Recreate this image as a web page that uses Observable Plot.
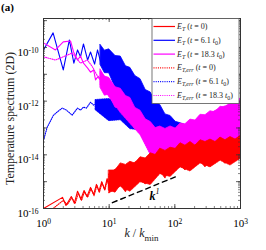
<!DOCTYPE html>
<html><head><meta charset="utf-8">
<script src="https://cdn.jsdelivr.net/npm/d3@7"></script>
<script src="https://cdn.jsdelivr.net/npm/@observablehq/plot@0.6"></script>
<style>body{margin:0;background:#fff} svg{display:block}</style>
</head><body><div id="chart"></div>
<script>
// ---------- DATA ----------
// E_T (t = 0), solid red: low-k line, then noisy band (lower / upper envelope)
const redK  = [1, 1.95, 2.2, 2.65, 2.95, 3.3, 3.7, 4.15, 4.6, 5.2, 5.8, 6.4, 7.0, 7.7, 8.5, 9.3, 10];
const redE  = [1.0e-16, 2.6e-16, 1.3e-16, 2.8e-16, 1.55e-16, 4.4e-16, 2.2e-16, 4.7e-16, 2.8e-16, 6.1e-16, 3.3e-16, 7.9e-16, 4.4e-16, 1.0e-15, 5.1e-16, 1.3e-15, 6.6e-16];
const redBandK  = [10, 12.5, 15, 18, 21, 25, 30, 36, 43, 51, 60, 72, 86, 103, 122, 145, 173, 206, 246, 293, 349, 416, 496, 590, 704, 840, 1000];
const redBandLo = [4.7e-16, 3.9e-16, 7.3e-16, 4.0e-16, 7.9e-16, 7.4e-16, 1.2e-15, 7.8e-16, 1.47e-15, 1.39e-15, 2.4e-15, 1.3e-15, 3.1e-15, 3.1e-15, 4.3e-15, 2.6e-15, 5.3e-15, 3.6e-15, 5.7e-15, 3.4e-15, 7.5e-15, 5.7e-15, 7.4e-15, 4.6e-15, 8.5e-15, 6.3e-15, 9.7e-15];
const redBandHi = [2.6e-15, 2.6e-15, 4.8e-15, 4.2e-15, 5.5e-15, 4.7e-15, 8.1e-15, 7.3e-15, 1.14e-14, 9.9e-15, 1.7e-14, 1.4e-14, 1.84e-14, 1.67e-14, 2.7e-14, 2.2e-14, 3.0e-14, 2.2e-14, 3.5e-14, 3.0e-14, 3.7e-14, 3.0e-14, 4.4e-14, 3.5e-14, 4.6e-14, 3.7e-14, 5.0e-14];

// E_T (t = 6.1 t0), solid blue
const blueK = [1, 1.4, 2.0, 2.48, 2.9, 3.3, 3.66, 4.06, 4.7, 5.2, 6.0, 6.65, 7.4];
const blueE = [8.1e-11, 3.5e-10, 1.45e-11, 1.9e-10, 2.6e-11, 8.1e-11, 4.5e-11, 1.35e-10, 3.4e-11, 6.8e-11, 2.4e-11, 8.1e-11, 2.9e-11];
const blueBandK  = [7.4, 8.6, 10, 12.5, 15, 18, 21, 25, 30, 36, 43, 51, 60, 72, 86, 103, 122, 173, 246, 496, 1000];
const blueBandLo = [2.2e-11, 1.1e-11, 1.1e-11, 3.1e-12, 2.6e-12, 1.2e-12, 8.6e-13, 2.6e-13, 2.6e-13, 1.3e-13, 1.08e-13, 3.6e-14, 4.5e-14, 3.1e-14, 3.7e-14, 2.3e-14, 3.2e-14, 3.2e-14, 3.5e-14, 4.2e-14, 4.5e-14];
const blueBandHi = [1.24e-10, 7.6e-11, 8.5e-11, 4.8e-11, 4.6e-11, 2.0e-11, 1.74e-11, 8.6e-12, 6.6e-12, 2.6e-12, 2.1e-12, 9.0e-13, 7.2e-13, 3.2e-13, 2.8e-13, 1.7e-13, 1.5e-13, 1.07e-13, 1.26e-13, 1.95e-13, 3.0e-13];

// E_T (t = 18.3 t0), solid magenta
const magK = [1, 1.52, 2.0, 2.58, 2.87, 3.3, 3.66, 4.06, 4.7, 5.2, 5.8, 6.2, 6.7, 7.4];
const magE = [1.48e-10, 8.1e-11, 1.62e-10, 1.74e-10, 6.8e-11, 3.4e-11, 4.8e-11, 2.6e-11, 1.7e-11, 1.2e-11, 1.45e-11, 6.2e-12, 8.0e-12, 6.0e-12];
const magBandK  = [7.4, 8.6, 10, 12.5, 15, 18, 21, 25, 30, 36, 43, 51, 60, 72, 86, 103, 122, 145, 173, 206, 246, 293, 349, 416, 496, 590, 704, 840, 1000];
const magBandLo = [3.1e-12, 1.6e-12, 1.74e-12, 5.7e-13, 5.5e-13, 2.9e-13, 2.5e-13, 9.1e-14, 8.3e-14, 3.7e-14, 3.2e-14, 1.3e-14, 1.74e-14, 1.5e-14, 2.2e-14, 1.56e-14, 3.0e-14, 2.1e-14, 2.9e-14, 1.8e-14, 3.4e-14, 2.7e-14, 3.5e-14, 2.4e-14, 4.2e-14, 2.85e-14, 3.8e-14, 2.8e-14, 4.2e-14];
const magBandHi = [1.5e-11, 8.2e-12, 7.4e-12, 3.3e-12, 2.9e-12, 1.55e-12, 1.32e-12, 5.6e-13, 4.4e-13, 2.1e-13, 1.66e-13, 9.9e-14, 1.13e-13, 9.2e-14, 1.14e-13, 9.5e-14, 1.46e-13, 1.38e-13, 2.05e-13, 1.9e-13, 3.1e-13, 3.0e-13, 4.2e-13, 3.8e-13, 6.2e-13, 5.7e-13, 8.5e-13, 8.1e-13, 1.27e-12];

// E_T,err (t = 0), dotted red
const redErrK = [1.4, 2.0, 2.3, 2.7, 3.05, 3.4, 3.8, 4.2, 4.7, 5.3, 5.9, 6.5, 7.1, 7.8, 8.6, 9.4, 10];
const redErrE = [1.0e-16, 2.0e-16, 1.4e-16, 2.5e-16, 1.6e-16, 3.8e-16, 2.0e-16, 4.2e-16, 2.6e-16, 5.5e-16, 3.0e-16, 7.2e-16, 4.0e-16, 9.0e-16, 4.8e-16, 1.2e-15, 6.0e-16];
const redErrBandK  = [10, 15, 21, 30, 43, 60, 86, 122, 173, 246, 349, 496, 704, 1000];
const redErrBandLo = [3.6e-16, 6.5e-16, 4.2e-16, 9.5e-16, 7.5e-16, 1.9e-15, 1.5e-15, 3.4e-15, 2.4e-15, 4.8e-15, 3.4e-15, 6.0e-15, 4.0e-15, 7.0e-15];
const redErrBandHi = [1.86e-15, 3.9e-15, 3.8e-15, 7.0e-15, 7.0e-15, 1.3e-14, 1.15e-14, 2.1e-14, 1.8e-14, 2.8e-14, 2.3e-14, 3.5e-14, 2.9e-14, 4.2e-14];

// E_T,err (t = 6.1 t0), dotted blue
const blueErrK = [1, 1.14, 1.42, 1.69, 1.93, 2.24, 2.73, 3.3, 3.66, 4.06, 4.5, 5.2, 5.8, 6.2];
const blueErrE = [3.5e-14, 1.07e-13, 3.0e-13, 4.3e-13, 5.5e-13, 4.6e-13, 3.0e-13, 5.5e-13, 4.6e-13, 6.0e-13, 5.5e-13, 9.1e-13, 7.1e-13, 8.0e-13];
const blueErrBandK  = [6.2, 10, 15, 21, 30, 43, 60, 86, 122, 246, 496, 1000];
const blueErrBandLo = [4.6e-13, 1.8e-13, 1.95e-13, 9.0e-14, 8.3e-14, 3.5e-14, 3.8e-14, 2.1e-14, 2.9e-14, 1.9e-14, 3.2e-14, 2.3e-14];
const blueErrBandHi = [1.1e-12, 1.2e-12, 9.0e-13, 8.6e-13, 4.1e-13, 3.3e-13, 1.75e-13, 1.4e-13, 9.6e-14, 1.18e-13, 1.24e-13, 1.76e-13];

// E_T,err (t = 18.3 t0), dotted magenta
const magErrK = [1, 1.52, 2.3, 2.73, 3.66, 4.63, 5.5, 6.5, 7.4];
const magErrE = [4.5e-11, 3.4e-11, 5.2e-11, 6.2e-11, 2.6e-11, 3.4e-11, 2.0e-11, 9.3e-12, 7.0e-12];
const magErrBandK  = [7.4, 15, 30, 43, 60, 86, 122, 246, 496, 1000];
const magErrBandLo = [4.0e-12, 3.6e-13, 5.4e-14, 9.6e-15, 7.4e-15, 6.2e-15, 1.48e-14, 1.5e-14, 2.9e-14, 2.3e-14];
const magErrBandHi = [1.2e-11, 2.0e-12, 3.3e-13, 8.8e-14, 5.4e-14, 5.7e-14, 1.08e-13, 2.1e-13, 5.5e-13, 1.0e-12];

// k^1 reference line
const refK = [11.2, 113];
const refE = [1.65e-16, 1.67e-15];

// Ticks / labels
const xTicks = [1, 10, 100, 1000];
const yTicks = [1e-16, 1e-14, 1e-12, 1e-10];
const yMajor = [1e-16, 1e-15, 1e-14, 1e-13, 1e-12, 1e-11, 1e-10, 1e-9];

const legendSub  = ["T", "T", "T", "T,err", "T,err", "T,err"];
const legendTime = ["0", "6.1", "18.3", "0", "6.1", "18.3"];
const legendColor = ["#ff0000", "#0000ff", "#ff00ff", "#ff0000", "#0000ff", "#ff00ff"];
const legendDotted = [false, false, false, true, true, true];

// ---------- BUILD ----------
const line = (ks, es) => ks.map((k, i) => ({k, E: es[i]}));
const band = (ks, lo, hi) => ks.map((k, i) => ({k, lo: lo[i], hi: hi[i]}));

const W = 266, H = 250, mL = 43, mR = 26, mT = 18, mB = 42;
const fh = H - mT - mB;
const fw = W - mL - mR;
const xMinor = d3.scaleLog().domain([1, 1000]).ticks();
const yMinor = d3.scaleLog().domain([1e-16, 1.2e-9]).ticks().filter(v => v <= 1.2e-9);

const RED = "#ff0000", BLUE = "#0000ff", MAG = "#ff00ff";
const DOT = "1,1.2";

function bandMarks(b, color, dotted) {
  return Plot.areaY(b, {x: "k", y1: "lo", y2: "hi", fill: color, stroke: color, strokeWidth: 0.8, strokeDasharray: dotted ? DOT : null});
}
function lineMarks(l, color, dotted) {
  return Plot.line(l, {x: "k", y: "E", stroke: color, strokeWidth: 1.1, strokeDasharray: dotted ? DOT : null});
}

const plot = Plot.plot({
  width: W, height: H,
  marginLeft: mL, marginRight: mR, marginTop: mT, marginBottom: mB,
  style: {fontFamily: "'Liberation Serif', serif", fontSize: "11px", background: "white", color: "black"},
  x: {type: "log", domain: [1, 1000]},
  y: {type: "log", domain: [1e-16, 1.2e-9]},
  marks: [
    bandMarks(band(blueBandK, blueBandLo, blueBandHi), BLUE, false),
    lineMarks(line(blueK, blueE), BLUE, false),
    bandMarks(band(blueErrBandK, blueErrBandLo, blueErrBandHi), BLUE, true),
    lineMarks(line(blueErrK, blueErrE), BLUE, true),
    bandMarks(band(magBandK, magBandLo, magBandHi), MAG, false),
    lineMarks(line(magK, magE), MAG, false),
    bandMarks(band(magErrBandK, magErrBandLo, magErrBandHi), MAG, true),
    lineMarks(line(magErrK, magErrE), MAG, true),
    bandMarks(band(redBandK, redBandLo, redBandHi), RED, false),
    lineMarks(line(redK, redE), RED, false),
    bandMarks(band(redErrBandK, redErrBandLo, redErrBandHi), RED, true),
    lineMarks(line(redErrK, redErrE), RED, true),
    Plot.line(line(refK, refE), {x: "k", y: "E", stroke: "black", strokeWidth: 1.4, strokeDasharray: "5,4"}),
    // inward ticks on all four sides
    Plot.ruleX(xMinor, {x: d => d, insetTop: fh - 2, stroke: "#333", strokeWidth: 0.6}),
    Plot.ruleX(xMinor, {x: d => d, insetBottom: fh - 2, stroke: "#333", strokeWidth: 0.6}),
    Plot.ruleX(xTicks, {x: d => d, insetTop: fh - 4, stroke: "#333", strokeWidth: 0.8}),
    Plot.ruleX(xTicks, {x: d => d, insetBottom: fh - 4, stroke: "#333", strokeWidth: 0.8}),
    Plot.ruleY(yMinor, {y: d => d, insetRight: fw - 2, stroke: "#333", strokeWidth: 0.6}),
    Plot.ruleY(yMinor, {y: d => d, insetLeft: fw - 2, stroke: "#333", strokeWidth: 0.6}),
    Plot.ruleY(yMajor, {y: d => d, insetRight: fw - 4, stroke: "#333", strokeWidth: 0.8}),
    Plot.ruleY(yMajor, {y: d => d, insetLeft: fw - 4, stroke: "#333", strokeWidth: 0.8}),
    Plot.frame({stroke: "#333", strokeWidth: 1}),
    Plot.axisX({ticks: xTicks, tickSize: 0, tickPadding: 11, label: null, tickFormat: d => "10^" + Math.round(Math.log10(d))}),
    Plot.axisY({ticks: yTicks, tickSize: 0, tickPadding: 5, label: null, tickFormat: d => "10^" + Math.round(Math.log10(d))})
  ]
});

document.getElementById("chart").appendChild(plot);
const svg = d3.select(plot);

// superscript tick labels
svg.selectAll('g[aria-label="x-axis tick label"] text, g[aria-label="y-axis tick label"] text').each(function() {
  const t = d3.select(this);
  const parts = t.text().split("^");
  t.text(null);
  t.append("tspan").text(parts[0]);
  t.append("tspan").attr("dy", "-0.45em").attr("font-size", "7.5px").text(parts[1]);
});
svg.selectAll('g[aria-label="y-axis tick label"] text').attr("dy", "0.45em");

const sx = plot.scale("x"), sy = plot.scale("y");

// y label
svg.append("text")
  .attr("transform", `translate(14,118.5) rotate(-90)`)
  .attr("text-anchor", "middle").attr("font-size", "12px").attr("fill", "#222")
  .text("Temperature spectrum (2D)");

// x label
const xl = svg.append("text").attr("x", mL + fw / 2).attr("y", 237).attr("text-anchor", "middle").attr("font-size", "12px").attr("fill", "#222");
xl.append("tspan").attr("font-style", "italic").text("k");
xl.append("tspan").text(" / ");
xl.append("tspan").attr("font-style", "italic").text("k");
xl.append("tspan").attr("font-size", "9px").attr("dy", "4").text("min");

// panel label
svg.append("text").attr("x", 1).attr("y", 11).attr("text-anchor", "start").attr("font-weight", "bold").attr("font-size", "11px").text("(a)");

// k^1 label
const kl = svg.append("text").attr("x", sx.apply(42)).attr("y", sy.apply(2.0e-16)).attr("text-anchor", "start")
  .attr("font-weight", "bold").attr("font-style", "italic").attr("font-size", "12px");
kl.append("tspan").text("k");
kl.append("tspan").attr("font-size", "8px").attr("dy", "-6").attr("font-weight", "normal").text("1");

// legend
const lg = svg.append("g").attr("text-anchor", "start");
const lx0 = 152, ly0 = mT + 0.5, lw = 87, lh = 85, rowH = 13.8;
lg.append("rect").attr("x", lx0).attr("y", ly0).attr("width", lw).attr("height", lh)
  .attr("fill", "white").attr("stroke", "#555").attr("stroke-width", 0.8);
legendSub.forEach((sub, i) => {
  const y = ly0 + 8 + i * rowH;
  lg.append("line").attr("x1", lx0 + 1.5).attr("x2", lx0 + 23).attr("y1", y).attr("y2", y)
    .attr("stroke", legendColor[i]).attr("stroke-width", 1.2)
    .attr("stroke-dasharray", legendDotted[i] ? DOT : null);
  const t = lg.append("text").attr("x", lx0 + 25).attr("y", y + 2.5).attr("font-size", "8px").attr("fill", "#222");
  t.append("tspan").attr("font-style", "italic").text("E");
  t.append("tspan").attr("font-style", "italic").attr("font-size", "6px").attr("dy", "2").text(sub);
  t.append("tspan").attr("dy", "-2").text(" (");
  t.append("tspan").attr("font-style", "italic").text("t");
  t.append("tspan").text(" = " + legendTime[i]);
  if (legendTime[i] !== "0") {
    t.append("tspan").text(" ");
    t.append("tspan").attr("font-style", "italic").text("t");
    t.append("tspan").attr("font-size", "6px").attr("dy", "2").text("0");
    t.append("tspan").attr("dy", "-2").text(")");
  } else {
    t.append("tspan").text(")");
  }
});
</script>
</body></html>
